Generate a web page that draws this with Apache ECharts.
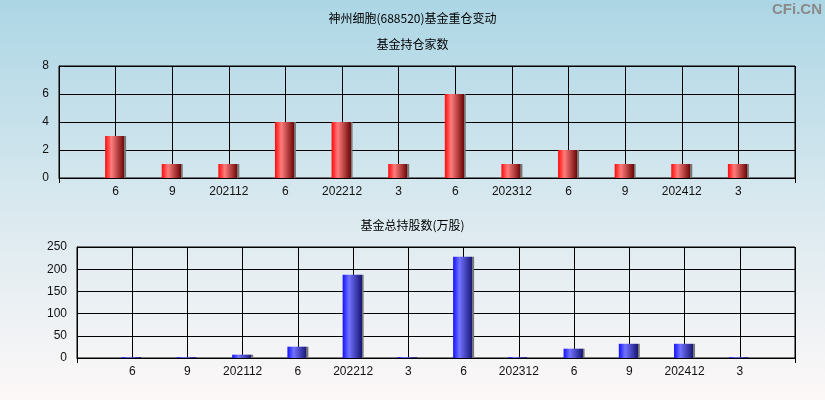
<!DOCTYPE html>
<html><head><meta charset="utf-8">
<script src="https://cdn.jsdelivr.net/npm/echarts@6/dist/echarts.min.js"></script>
<style>html,body{margin:0;padding:0;}#c{width:825px;height:400px;}</style>
</head><body><div id="c"></div>
<script>
// Data
const categories = ['', '6', '9', '202112', '6', '202212', '3', '6', '202312', '6', '9', '202412', '3', ''];
const fundCount = [null, 3, 1, 1, 4, 4, 1, 6, 1, 2, 1, 1, 1, null];
const fundShares = [null, 2, 2, 7.5, 25.5, 187.5, 2, 228, 2, 21, 32, 32, 2, null];
const countTicks = [0, 2, 4, 6, 8];
const shareTicks = [0, 50, 100, 150, 200, 250];

const chart = echarts.init(document.getElementById('c'));
const font = 'Liberation Sans, Arial, sans-serif';
const cjk = '"Noto Sans CJK SC", sans-serif';
const redGrad = new echarts.graphic.LinearGradient(0, 0, 1, 0, [
  {offset: 0, color: '#ff0a0a'}, {offset: 0.3, color: '#ff7c7c'},
  {offset: 0.9, color: '#700808'}, {offset: 0.91, color: '#777'}, {offset: 1, color: '#777'}]);
const blueGrad = new echarts.graphic.LinearGradient(0, 0, 1, 0, [
  {offset: 0, color: '#1212ff'}, {offset: 0.3, color: '#7272ff'},
  {offset: 0.9, color: '#181878'}, {offset: 0.91, color: '#777'}, {offset: 1, color: '#777'}]);
const endTick = (i) => i === 0 || i === categories.length - 1;
function xAx(gi) {
  return {
    type: 'category', gridIndex: gi, data: categories, boundaryGap: false,
    axisLine: {lineStyle: {color: '#000', width: 1}},
    axisTick: {show: true, interval: endTick, length: 5, lineStyle: {color: '#000'}},
    axisLabel: {interval: 0, color: '#111', fontFamily: font, fontSize: 12, margin: 8},
    splitLine: {show: true, lineStyle: {color: '#000', width: 1}}
  };
}
function yAx(gi, ticks) {
  return {
    type: 'value', gridIndex: gi, min: ticks[0], max: ticks[ticks.length - 1],
    interval: ticks[1] - ticks[0],
    axisLine: {show: true, lineStyle: {color: '#000'}},
    axisTick: {show: false},
    axisLabel: {color: '#111', fontFamily: font, fontSize: 12, margin: 10},
    splitLine: {show: true, lineStyle: {color: '#000', width: 1}}
  };
}
chart.setOption({
  animation: false,
  backgroundColor: new echarts.graphic.LinearGradient(0, 0, 0, 1, [
    {offset: 0, color: '#acd6e5'}, {offset: 0.5, color: '#d8e8ef'}, {offset: 1, color: '#fdf8f8'}]),
  title: [
    {text: '神州细胞(688520)基金重仓变动', left: 'center', top: 7, textStyle: {fontFamily: cjk, fontSize: 12, fontWeight: 'normal', color: '#000'}},
    {text: '基金持仓家数', left: 'center', top: 33, textStyle: {fontFamily: cjk, fontSize: 12, fontWeight: 'normal', color: '#000'}},
    {text: '基金总持股数(万股)', left: 'center', top: 214, textStyle: {fontFamily: cjk, fontSize: 12, fontWeight: 'normal', color: '#000'}},
    {text: 'CFi.CN', right: 3, top: 2, padding: 0, textStyle: {fontFamily: font, fontSize: 15, fontWeight: 'bold', color: '#8a8a8a'}}
  ],
  grid: [
    {left: 59, right: 30, top: 66, bottom: 222, show: true, borderColor: '#000', borderWidth: 1, backgroundColor: 'transparent'},
    {left: 77, right: 30, top: 247, bottom: 42, show: true, borderColor: '#000', borderWidth: 1, backgroundColor: 'transparent'}
  ],
  xAxis: [xAx(0), xAx(1)],
  yAxis: [yAx(0, countTicks), yAx(1, shareTicks)],
  series: [
    {type: 'bar', xAxisIndex: 0, yAxisIndex: 0, data: fundCount, barWidth: 21, itemStyle: {color: redGrad}},
    {type: 'bar', xAxisIndex: 1, yAxisIndex: 1, data: fundShares, barWidth: 21, itemStyle: {color: blueGrad}}
  ]
});
</script></body></html>
